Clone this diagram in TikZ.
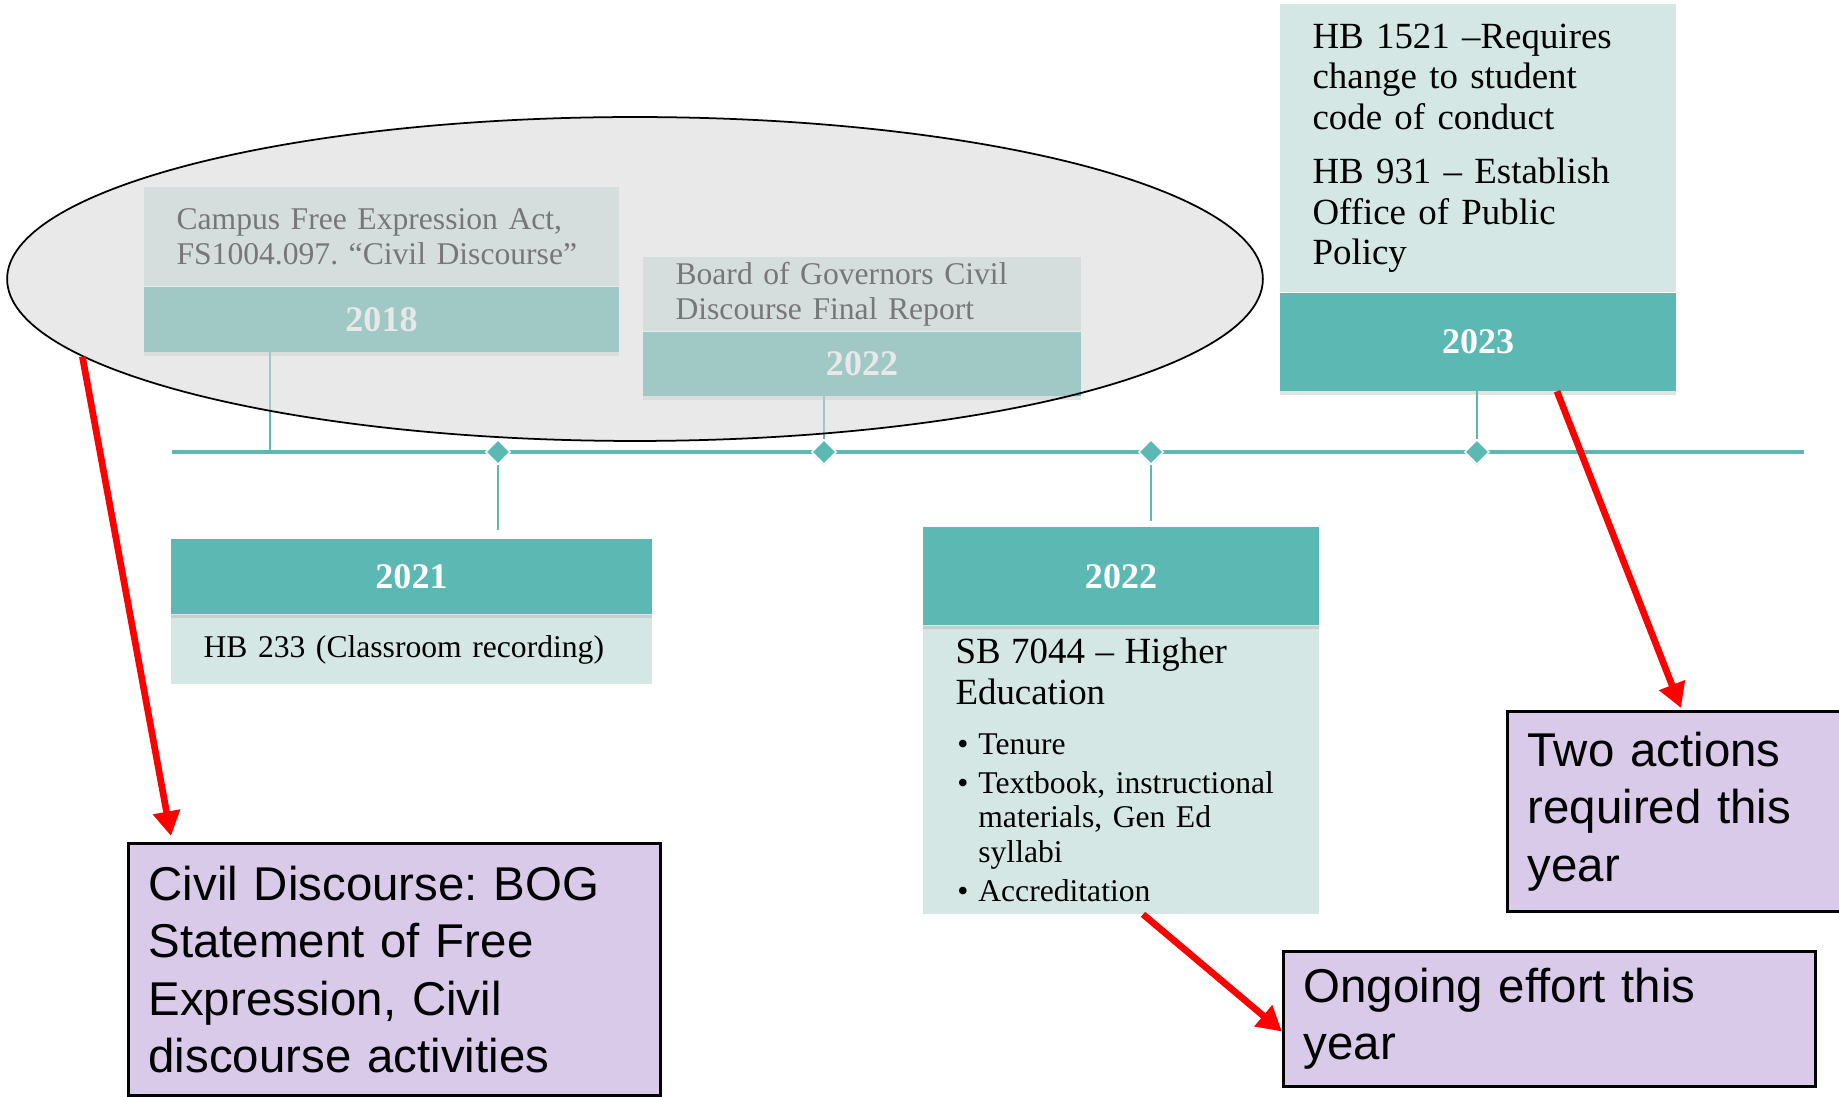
\documentclass[tikz,border=0pt]{standalone}
\usepackage{fontspec}
\setmainfont{Liberation Serif}
\newfontfamily\arialfont{Liberation Sans}
\usepackage{xcolor}
\usepackage{tikz}
\usetikzlibrary{positioning, arrows.meta, shapes.geometric, shadows}
\frenchspacing

\definecolor{tealbar}{RGB}{91,184,178}
\definecolor{tealpale}{RGB}{213,231,229}
\definecolor{ovalgray}{RGB}{215,215,215}
\definecolor{notepurple}{RGB}{217,202,233}
\newcommand{\bul}{\par\vspace{3pt}\noindent\hangindent=13pt\hangafter=1\makebox[13pt][l]{\hspace{1pt}\textbullet}}

\begin{document}
\begin{tikzpicture}[x=0.02cm, y=-0.02cm,
    yearnode/.style={rectangle, fill=tealbar, text=white, font=\bfseries\fontsize{20.5}{24}\selectfont, inner sep=0pt, drop shadow={opacity=0.22, shadow xshift=0pt, shadow yshift=-2pt}},
    infonode/.style={rectangle, fill=tealpale, font=\fontsize{18}{19.5}\selectfont, align=left, inner xsep=0.65cm, inner ysep=0pt},
    notenode/.style={rectangle, draw=black, line width=1.8pt, fill=notepurple, font=\arialfont\fontsize{27}{32.6}\selectfont, align=left, inner xsep=0.4cm, inner ysep=0pt, anchor=north west},
    diamondnode/.style={diamond, fill=tealbar, draw=white, line width=0.8pt, minimum size=0.5cm, inner sep=0pt, drop shadow={opacity=0.2, shadow xshift=0pt, shadow yshift=-1pt}},
    tickline/.style={draw=tealbar, line width=0.9pt},
    redarrow/.style={draw=red, line width=3.8pt, -{Triangle[length=14pt, width=15pt]}}
]
\useasboundingbox (0,0) rectangle (1839,1097);
\coordinate (tl0) at (172,452);
\coordinate (tl1) at (1804,452);
\coordinate (k18) at (270,452);
\draw[draw=tealbar, line width=2.8pt] (tl0) -- (tl1);

\node[yearnode, minimum width=9.5cm, minimum height=1.3cm] (y18) at (381.5,319.5) {2018};
\node[infonode, text width=8.2cm, minimum height=1.98cm, above=0pt of y18] (t18) {Campus Free Expression Act,\\FS1004.097. “Civil Discourse”};
\node[yearnode, minimum width=8.76cm, minimum height=1.28cm] (y22a) at (862,364) {2022};
\node[infonode, text width=7.46cm, minimum height=1.48cm, above=0pt of y22a] (t22a) {Board of Governors Civil\\Discourse Final Report};
\node[yearnode, minimum width=7.92cm, minimum height=1.96cm] (y23) at (1478,342) {2023};
\node[infonode, text width=6.62cm, minimum height=5.76cm, above=0pt of y23, font=\fontsize{21}{23}\selectfont] (t23) {HB 1521 –Requires\\change to student\\code of conduct\\[8pt]HB 931 – Establish\\Office of Public\\Policy};

\node[infonode, text width=8.32cm, minimum height=1.38cm] (t21) at (411.5,649.5) {HB 233 (Classroom recording)};
\node[yearnode, minimum width=9.62cm, minimum height=1.5cm, above=0pt of t21] (y21) {2021};
\node[infonode, text width=6.62cm, minimum height=5.76cm] (t22b) at (1121,770) {{\fontsize{21}{23}\selectfont SB 7044 – Higher\\Education\par}\vspace{6pt}
  \bul Tenure
  \bul Textbook, instructional\newline materials, Gen Ed\newline syllabi
  \bul Accreditation};
\node[yearnode, minimum width=7.92cm, minimum height=1.96cm, above=0pt of t22b] (y22b) {2022};

\draw[tickline] (k18 |- y18.south) -- (k18);
\node[diamondnode] (d21) at (498,452) {};
\node[diamondnode] (d22a) at (824,452) {};
\node[diamondnode] (d22b) at (1151,452) {};
\node[diamondnode] (d23) at (1477,452) {};
\draw[tickline] (d22a |- y22a.south) -- (d22a.north);
\draw[tickline] (d23 |- y23.south) -- (d23.north);
\draw[tickline, shorten >=0.18cm] (d21.south) -- (d21 |- y21.north);
\draw[tickline, shorten >=0.12cm] (d22b.south) -- (d22b |- y22b.north);

\node[ellipse, draw=black, line width=1pt, fill=ovalgray, fill opacity=0.555, minimum width=25.12cm, minimum height=6.48cm, inner sep=0pt] (oval) at (635,279) {};

\node[notenode, text width=9.84cm, minimum height=5.04cm] (civil) at (127,842) {Civil Discourse: BOG\\Statement of Free\\Expression, Civil\\discourse activities};
\node[notenode, text width=6.36cm, minimum height=4cm] (two) at (1506,710) {Two actions\\required this\\year};
\node[notenode, text width=9.84cm, minimum height=2.7cm] (ongo) at (1282,950) {Ongoing effort this\\year};

\draw[redarrow] (oval.188) -- ([xshift=0.88cm, yshift=0.12cm]civil.north west);
\draw[redarrow] ([xshift=1.58cm]y23.south) -- ([xshift=3.5cm, yshift=0.04cm]two.north west);
\draw[redarrow] ([xshift=0.44cm]t22b.south) -- ([yshift=-0.25cm]ongo.west);
\end{tikzpicture}
\end{document}
